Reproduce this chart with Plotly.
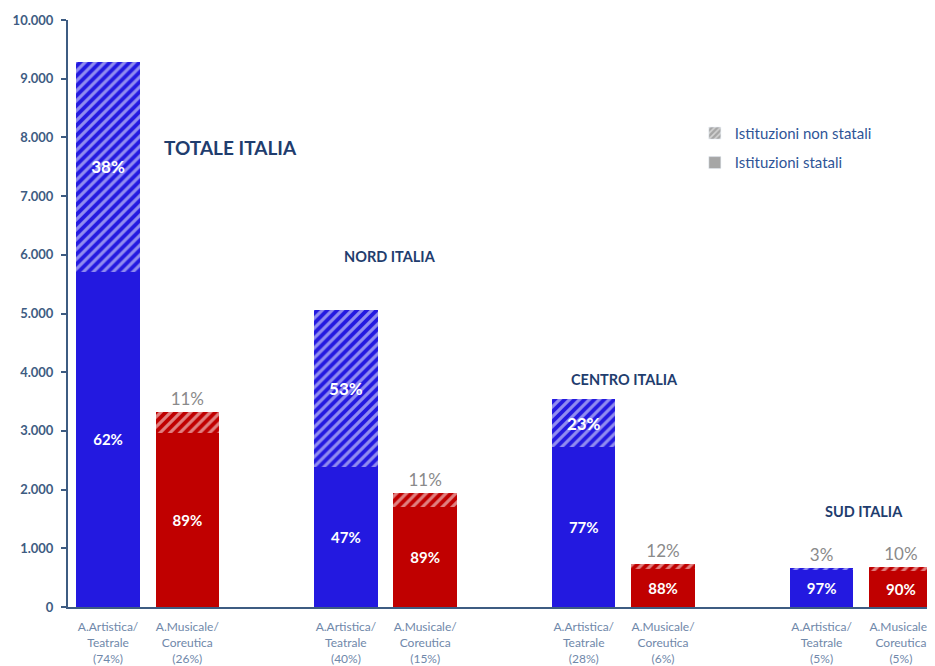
import plotly.graph_objects as go

# ---- data ----
positions = [0, 1, 3, 4, 6, 7, 9, 10]
tick_labels = [
    "A.Artistica/<br>Teatrale<br>(74%)", "A.Musicale/<br>Coreutica<br>(26%)",
    "A.Artistica/<br>Teatrale<br>(40%)", "A.Musicale/<br>Coreutica<br>(15%)",
    "A.Artistica/<br>Teatrale<br>(28%)", "A.Musicale/<br>Coreutica<br>(6%)",
    "A.Artistica/<br>Teatrale<br>(5%)", "A.Musicale/<br>Coreutica<br>(5%)",
]
statali = [5710, 2960, 2390, 1710, 2725, 640, 645, 612]
non_statali = [3580, 360, 2670, 230, 815, 90, 20, 68]
pct_statali = ["62%", "89%", "47%", "89%", "77%", "88%", "97%", "90%"]
pct_non_statali = ["38%", "11%", "53%", "11%", "23%", "12%", "3%", "10%"]
label_pos = ["inside", "outside", "inside", "outside", "inside", "outside", "outside", "outside"]
area_kind = ["art", "mus", "art", "mus", "art", "mus", "art", "mus"]

region_names = ["TOTALE ITALIA", "NORD ITALIA", "CENTRO ITALIA", "SUD ITALIA"]
region_x = [1.54, 3.55, 6.51, 9.53]
region_y = [7830, 5970, 3880, 1630]
region_size = [19, 14.5, 14.5, 14.5]

y_ticks = list(range(0, 10001, 1000))

# ---- styles ----
BLUE = "#2319E0"
RED = "#C00000"
col = [BLUE if k == "art" else RED for k in area_kind]
fg = ["#9DB2F0" if k == "art" else "#F3C6C6" for k in area_kind]
AXIS = "#3E5C82"
TITLE = "#1F3D6E"

fig = go.Figure()

fig.add_trace(go.Bar(
    x=positions, y=statali, width=0.8,
    marker=dict(color=col, line=dict(width=0)),
    text=pct_statali, textposition="inside", insidetextanchor="middle",
    textangle=0,
    insidetextfont=dict(color="white", size=15, family="Lato", weight="bold"),
    showlegend=False, hoverinfo="skip",
))
fig.add_trace(go.Bar(
    x=positions, y=non_statali, width=0.8,
    marker=dict(color=col, line=dict(width=0),
                pattern=dict(shape="/", fgcolor=fg, size=7, solidity=0.45)),
    text=pct_non_statali, textposition=label_pos, insidetextanchor="middle",
    textangle=0, cliponaxis=False,
    insidetextfont=dict(color="white", size=17, family="Lato", weight="bold"),
    outsidetextfont=dict(color="#8A8A8A", size=17, family="Lato"),
    showlegend=False, hoverinfo="skip",
))

# legend-only entries
fig.add_trace(go.Bar(
    x=[None], y=[None], name="Istituzioni non statali", legendgroup="a",
    marker=dict(color="#A6A6A6", pattern=dict(shape="/", fgcolor="white", size=5, solidity=0.4)),
))
fig.add_trace(go.Bar(
    x=[None], y=[None], name="Istituzioni statali", legendgroup="b",
    marker=dict(color="#A6A6A6"),
))

for name, xx, yy, sz in zip(region_names, region_x, region_y, region_size):
    fig.add_annotation(x=xx, y=yy, text=name, showarrow=False,
                       font=dict(color=TITLE, size=sz, family="Lato", weight="bold"))

# the page body adds an 8px offset, so the figure is sized to end at the window edge
fig.update_layout(
    width=927, height=658,
    margin=dict(l=60, r=0, t=12, b=59),
    barmode="stack", plot_bgcolor="white", paper_bgcolor="white",
    separators=",.",
    font=dict(family="Lato"),
    legend=dict(x=0.723, y=0.835, xanchor="left", yanchor="top",
                font=dict(color="#2F5597", size=15), tracegroupgap=7,
                bgcolor="rgba(0,0,0,0)"),
    xaxis=dict(range=[-0.505, 10.43], tickvals=positions, ticktext=tick_labels,
               showline=True, linecolor=AXIS, linewidth=2, ticks="",
               showgrid=False, zeroline=False, automargin=False,
               ticklabelstandoff=8,
               tickfont=dict(color="#7088AA", size=12)),
    yaxis=dict(range=[0, 10000], tickvals=y_ticks, tickformat=",d",
               showline=True, linecolor=AXIS, linewidth=2,
               ticks="outside", ticklen=5, tickcolor=AXIS, tickwidth=2,
               showgrid=False, zeroline=False, automargin=False,
               ticklabelstandoff=5,
               tickfont=dict(color=AXIS, size=13, weight="bold")),
)

fig.write_html("out.html")
